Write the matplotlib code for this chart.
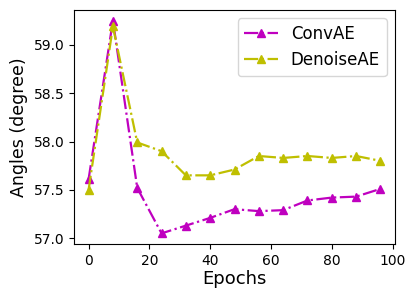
import matplotlib
matplotlib.use("Agg")
import matplotlib.pyplot as plt

epochs = [0, 8, 16, 24, 32, 40, 48, 56, 64, 72, 80, 88, 96]
conv_ae = [57.61, 59.25, 57.52, 57.05, 57.13, 57.21, 57.30, 57.28, 57.29, 57.39, 57.42, 57.43, 57.51]
denoise_ae = [57.50, 59.19, 57.99, 57.90, 57.65, 57.65, 57.71, 57.85, 57.83, 57.85, 57.83, 57.85, 57.80]

fig = plt.figure(figsize=(4.16, 3.01), dpi=100)
ax = fig.add_axes([74/416, 1-244/301, (395-74)/416, (244-10)/301])
ax.plot(epochs, conv_ae, '-.', color='m', marker='^', lw=1.6, ms=6, label='ConvAE')
ax.plot(epochs, denoise_ae, '-.', color='y', marker='^', lw=1.6, ms=6, label='DenoiseAE')
ax.set_xlabel('Epochs', fontsize=13, labelpad=2)
ax.set_ylabel('Angles (degree)', fontsize=12.5)
ax.tick_params(labelsize=10)
ax.set_xticks([0, 20, 40, 60, 80, 100])
ax.set_yticks([57.0, 57.5, 58.0, 58.5, 59.0])
ax.legend(loc='upper right', fontsize=12)
fig.savefig('out.png', dpi=100)
